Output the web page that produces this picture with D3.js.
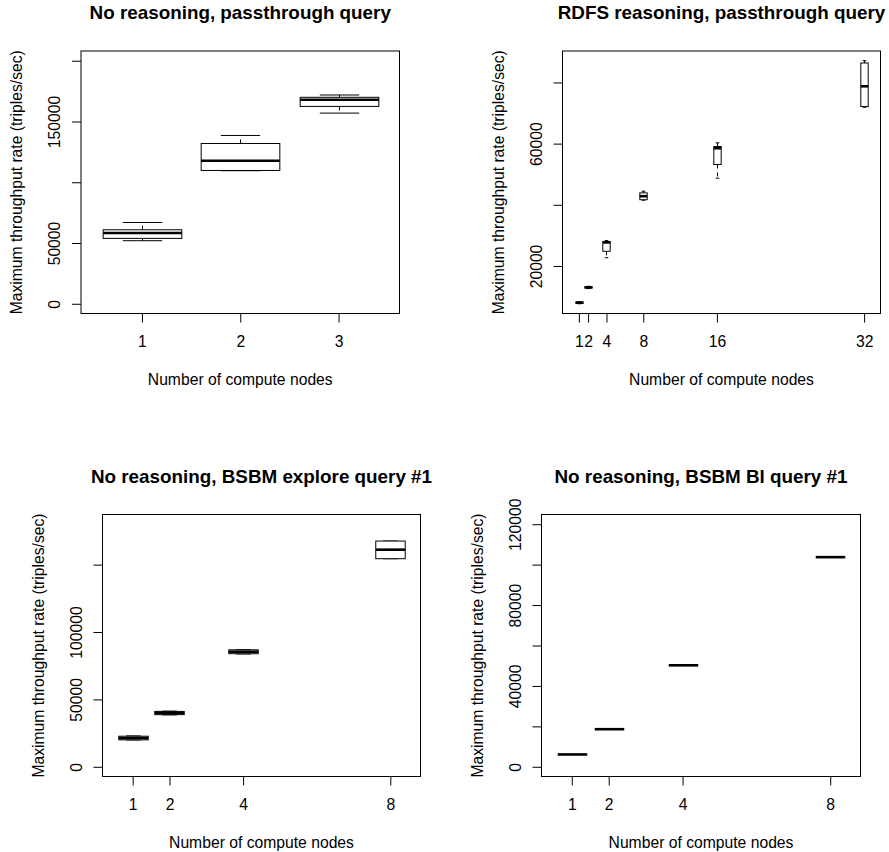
<!DOCTYPE html>
<html>
<head>
<meta charset="utf-8">
<script src="https://cdn.jsdelivr.net/npm/d3@7"></script>
<style>
  body { margin: 0; background: #fff; }
  svg { display: block; font-family: "Liberation Sans", Arial, Helvetica, sans-serif; }
</style>
</head>
<body>
<svg id="chart" width="889" height="852"></svg>
<script>
// Panel 1: no reasoning, passthrough query
const p1Title = 'No reasoning, passthrough query';
const p1Nodes = [1, 2, 3];
const p1Low = [51900, 109500, 156900];
const p1Q1 = [53800, 109700, 162400];
const p1Med = [58200, 117700, 167900];
const p1Q3 = [60900, 131900, 169900];
const p1High = [66900, 138500, 171800];
const p1YTicks = [0, 50000, 100000, 150000, 200000];
const p1YLabels = ['0', '50000', '', '150000', ''];
const p1YLim = [0, 200000];

// Panel 2: RDFS reasoning, passthrough query
const p2Title = 'RDFS reasoning, passthrough query';
const p2Nodes = [1, 2, 4, 8, 16, 32];
const p2Low = [7640, 12600, 22700, 41500, 48700, 71900];
const p2Q1 = [7800, 12800, 24800, 41660, 53190, 72110];
const p2Med = [8000, 13000, 27700, 42800, 58500, 78740];
const p2Q3 = [8200, 13200, 28000, 43900, 59060, 86360];
const p2High = [8300, 13350, 28300, 44430, 60260, 87100];
const p2YTicks = [20000, 40000, 60000, 80000];
const p2YLabels = ['20000', '', '60000', ''];
const p2YLim = null; // taken from the data

// Panel 3: no reasoning, BSBM explore query #1
const p3Title = 'No reasoning, BSBM explore query #1';
const p3Nodes = [1, 2, 4, 8];
const p3Low = [19900, 38500, 83700, 154400];
const p3Q1 = [20000, 38700, 83900, 154400];
const p3Med = [21300, 40000, 85400, 161100];
const p3Q3 = [22700, 41100, 86800, 167500];
const p3High = [22900, 41300, 87000, 167500];
const p3YTicks = [0, 50000, 100000, 150000];
const p3YLabels = ['0', '50000', '100000', ''];
const p3YLim = [0, 180000];

// Panel 4: no reasoning, BSBM BI query #1
const p4Title = 'No reasoning, BSBM BI query #1';
const p4Nodes = [1, 2, 4, 8];
const p4Low = [6100, 18600, 50200, 103700];
const p4Q1 = [6100, 18600, 50200, 103700];
const p4Med = [6100, 18600, 50200, 103700];
const p4Q3 = [6100, 18600, 50200, 103700];
const p4High = [6100, 18600, 50200, 103700];
const p4YTicks = [0, 20000, 40000, 60000, 80000, 100000, 120000];
const p4YLabels = ['0', '', '40000', '', '80000', '', '120000'];
const p4YLim = [0, 120000];

const xLabel = 'Number of compute nodes';
const yLabel = 'Maximum throughput rate (triples/sec)';

const svg = d3.select('#chart');
const fontSize = 15.7;

// R style axis range: 4% padding each side
function extend([a, b]) {
  const pad = (b - a) * 0.04;
  return [a - pad, b + pad];
}

function drawPanel(p) {
  const g = svg.append('g');

  const x = d3.scaleLinear()
    .domain(extend([d3.min(p.nodes) - 0.5, d3.max(p.nodes) + 0.5]))
    .range([p.left, p.right]);
  const yLim = p.yLim || [d3.min(p.low), d3.max(p.high)];
  const y = d3.scaleLinear()
    .domain(extend(yLim))
    .range([p.bottom, p.top]);

  const halfW = 0.4 * (x(1) - x(0));
  const stapleW = halfW / 2;

  // whiskers (dashed), staples, box, median
  p.nodes.forEach((n, i) => {
    const cx = Math.round(x(n)) + 0.5;
    const dash = '4,4';
    g.append('line')
      .attr('x1', cx).attr('x2', cx)
      .attr('y1', y(p.q3[i])).attr('y2', y(p.high[i]))
      .attr('stroke', '#000').attr('stroke-dasharray', dash);
    g.append('line')
      .attr('x1', cx).attr('x2', cx)
      .attr('y1', y(p.q1[i])).attr('y2', y(p.low[i]))
      .attr('stroke', '#000').attr('stroke-dasharray', dash);
    [p.low[i], p.high[i]].forEach(v => {
      g.append('line')
        .attr('x1', cx - stapleW).attr('x2', cx + stapleW)
        .attr('y1', y(v)).attr('y2', y(v))
        .attr('stroke', '#000');
    });
    g.append('rect')
      .attr('x', cx - halfW)
      .attr('y', y(p.q3[i]))
      .attr('width', halfW * 2)
      .attr('height', Math.max(0, y(p.q1[i]) - y(p.q3[i])))
      .attr('fill', '#fff')
      .attr('stroke', '#000');
    g.append('line')
      .attr('x1', cx - halfW).attr('x2', cx + halfW)
      .attr('y1', y(p.med[i])).attr('y2', y(p.med[i]))
      .attr('stroke', '#000')
      .attr('stroke-width', 2.6);
  });

  // plot frame
  g.append('rect')
    .attr('x', p.left).attr('y', p.top)
    .attr('width', p.right - p.left).attr('height', p.bottom - p.top)
    .attr('fill', 'none').attr('stroke', '#000');

  const xAxis = g.append('g')
    .attr('transform', `translate(0,${p.bottom})`)
    .call(d3.axisBottom(x).tickValues(p.nodes).tickFormat(d3.format('d')).tickSize(9).tickSizeOuter(0));
  xAxis.select('.domain').remove();
  xAxis.selectAll('text')
    .attr('y', 33).attr('dy', null)
    .style('font-size', fontSize + 'px')
    .attr('fill', '#000');

  const yAxis = g.append('g')
    .attr('transform', `translate(${p.left},0)`)
    .call(d3.axisLeft(y).tickValues(p.yTicks).tickFormat((d, i) => p.yLabels[i]).tickSize(9).tickSizeOuter(0));
  yAxis.select('.domain').remove();
  yAxis.selectAll('text')
    .attr('x', null).attr('dy', null)
    .attr('transform', 'translate(-21,0) rotate(-90)')
    .attr('text-anchor', 'middle')
    .style('font-size', fontSize + 'px')
    .attr('fill', '#000');
  g.selectAll('.tick line').attr('stroke', '#000');

  const cx = (p.left + p.right) / 2;
  g.append('text')
    .attr('x', cx).attr('y', p.top - 32)
    .attr('text-anchor', 'middle')
    .style('font-size', (fontSize * 1.2) + 'px')
    .style('font-weight', 'bold')
    .text(p.title);

  g.append('text')
    .attr('x', cx).attr('y', p.bottom + 71)
    .attr('text-anchor', 'middle')
    .style('font-size', fontSize + 'px')
    .text(xLabel);

  g.append('text')
    .attr('transform', `translate(${p.left - 59},${(p.top + p.bottom) / 2}) rotate(-90)`)
    .attr('text-anchor', 'middle')
    .style('font-size', fontSize + 'px')
    .text(yLabel);
}

drawPanel({ title: p1Title, nodes: p1Nodes, low: p1Low, q1: p1Q1, med: p1Med, q3: p1Q3, high: p1High,
  yTicks: p1YTicks, yLabels: p1YLabels, yLim: p1YLim, left: 81, right: 399.5, top: 51, bottom: 313.5 });
drawPanel({ title: p2Title, nodes: p2Nodes, low: p2Low, q1: p2Q1, med: p2Med, q3: p2Q3, high: p2High,
  yTicks: p2YTicks, yLabels: p2YLabels, yLim: p2YLim, left: 562.5, right: 880.5, top: 51, bottom: 313.5 });
drawPanel({ title: p3Title, nodes: p3Nodes, low: p3Low, q1: p3Q1, med: p3Med, q3: p3Q3, high: p3High,
  yTicks: p3YTicks, yLabels: p3YLabels, yLim: p3YLim, left: 102.5, right: 420.5, top: 514.5, bottom: 776.5 });
drawPanel({ title: p4Title, nodes: p4Nodes, low: p4Low, q1: p4Q1, med: p4Med, q3: p4Q3, high: p4High,
  yTicks: p4YTicks, yLabels: p4YLabels, yLim: p4YLim, left: 541.5, right: 860.5, top: 514.5, bottom: 776.5 });
</script>
</body>
</html>
